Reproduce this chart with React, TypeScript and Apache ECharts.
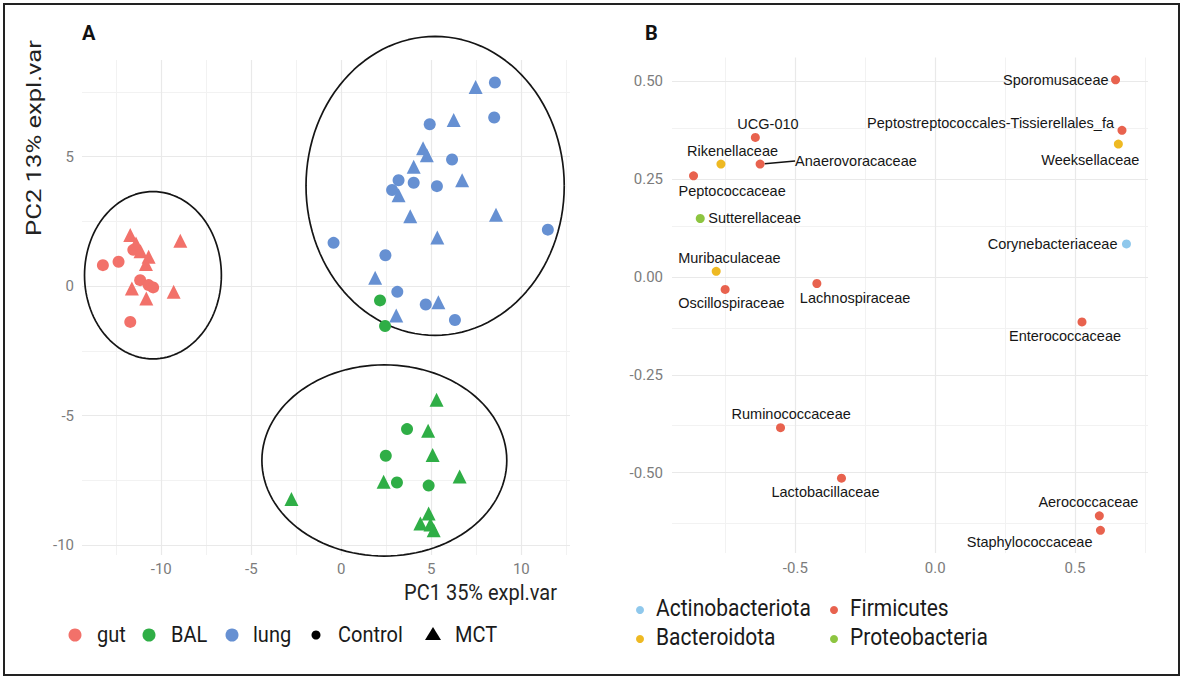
import React, { useEffect, useRef } from "react";
import * as echarts from "echarts";

// ---------- Panel A data (PC1, PC2) ----------
const gutControl = [[-13.24, 0.81], [-12.37, 0.94], [-11.55, 1.4], [-11.17, 0.23], [-10.7, 0.04], [-10.45, -0.05], [-11.72, -1.38]];
const gutMCT = [[-11.72, 1.97], [-11.4, 1.65], [-11.15, 1.35], [-10.7, 1.13], [-10.85, 0.85], [-8.94, 1.75], [-11.63, -0.09], [-10.83, -0.48], [-9.31, -0.22]];
const balControl = [[2.15, -0.55], [2.43, -1.54], [3.65, -5.52], [2.47, -6.55], [3.09, -7.58], [4.85, -7.7]];
const balMCT = [[5.29, -4.39], [4.82, -5.58], [5.07, -6.52], [2.35, -7.55], [6.57, -7.35], [-2.77, -8.22], [4.85, -8.78], [4.39, -9.16], [5.13, -9.42], [4.95, -9.2]];
const lungControl = [[8.53, 7.86], [8.49, 6.51], [4.91, 6.25], [6.15, 4.89], [3.18, 4.09], [4.02, 3.99], [5.31, 3.86], [2.82, 3.71], [11.47, 2.18], [-0.43, 1.67], [2.45, 1.19], [3.11, -0.22], [4.69, -0.71], [6.31, -1.31]];
const lungMCT = [[7.46, 7.69], [6.24, 6.41], [4.54, 5.32], [4.75, 5.05], [4.02, 4.61], [6.71, 4.09], [3.18, 3.51], [3.83, 2.7], [8.59, 2.76], [5.33, 1.88], [1.88, 0.32], [5.39, -0.62], [3.05, -1.13]];

const groups = ["gut", "BAL", "lung"];
const ellipseCx = [-10.46, 2.39, 5.21];
const ellipseCy = [0.42, -6.73, 3.87];
const ellipseRx = [3.8, 6.8, 7.17];
const ellipseRy = [3.23, 3.69, 5.77];

const xTicksA = [-10, -5, 0, 5, 10];
const xMinorA = [-12.5, -7.5, -2.5, 2.5, 7.5, 12.5];
const yTicksA = [-10, -5, 0, 5];
const yMinorA = [-7.5, -2.5, 2.5, 7.5];

// ---------- Panel B data (loadings) ----------
const taxa = [
  "Sporomusaceae", "Peptostreptococcales-Tissierellales_fa", "Weeksellaceae", "Corynebacteriaceae",
  "Enterococcaceae", "UCG-010", "Rikenellaceae", "Anaerovoracaceae", "Peptococcaceae",
  "Sutterellaceae", "Muribaculaceae", "Oscillospiraceae", "Lachnospiraceae", "Ruminococcaceae",
  "Lactobacillaceae", "Aerococcaceae", "Staphylococcaceae",
];
const loadX = [0.645, 0.668, 0.655, 0.684, 0.525, -0.643, -0.766, -0.626, -0.864, -0.84, -0.783, -0.751, -0.423, -0.553, -0.335, 0.587, 0.591];
const loadY = [0.503, 0.374, 0.339, 0.084, -0.115, 0.356, 0.288, 0.288, 0.258, 0.149, 0.014, -0.032, -0.017, -0.385, -0.514, -0.61, -0.647];
const phylum = [
  "Firmicutes", "Firmicutes", "Bacteroidota", "Actinobacteriota", "Firmicutes", "Firmicutes",
  "Bacteroidota", "Firmicutes", "Firmicutes", "Proteobacteria", "Bacteroidota", "Firmicutes",
  "Firmicutes", "Firmicutes", "Firmicutes", "Firmicutes", "Firmicutes",
];
const phyla = ["Actinobacteriota", "Firmicutes", "Bacteroidota", "Proteobacteria"];

const xTicksB = [-0.5, 0, 0.5];
const xMinorB = [-0.75, -0.25, 0.25, 0.75];
const yTicksB = [-0.5, -0.25, 0, 0.25, 0.5];
const yMinorB = [-0.625, -0.375, -0.125, 0.125, 0.375];

// ---------- styles ----------
const groupColors: Record<string, string> = { gut: "#F2716A", BAL: "#2FAE46", lung: "#6690D2" };
const phylumColors: Record<string, string> = {
  Actinobacteriota: "#8FC8EC",
  Firmicutes: "#E8624E",
  Bacteroidota: "#EEB922",
  Proteobacteria: "#8DC540",
};
// label placement: [dx, dy, align]
const labelPlace: Record<string, [number, number, string]> = {
  Sporomusaceae: [-7, 0, "right"],
  "Peptostreptococcales-Tissierellales_fa": [-8, -7, "right"],
  Weeksellaceae: [21, 16, "right"],
  Corynebacteriaceae: [-9, 0, "right"],
  Enterococcaceae: [-73, 14, "left"],
  "UCG-010": [-18, -13, "left"],
  Rikenellaceae: [-34, -13, "left"],
  Anaerovoracaceae: [35, -3, "left"],
  Peptococcaceae: [-15, 15, "left"],
  Sutterellaceae: [8, 0, "left"],
  Muribaculaceae: [-38, -13, "left"],
  Oscillospiraceae: [-47, 14, "left"],
  Lachnospiraceae: [-17, 14, "left"],
  Ruminococcaceae: [-49, -14, "left"],
  Lactobacillaceae: [-70, 14, "left"],
  Aerococcaceae: [39, -14, "right"],
  Staphylococcaceae: [-8, 12, "right"],
};

const GRID_MAJOR = "#e9e9e9";
const GRID_MINOR = "#f2f2f2";
const TICK_COLOR = "#7c7c7c";
const TICK_FONT = "Roboto";

function gridLines(gridIdx: number, xMaj: number[], xMin: number[], yMaj: number[], yMin: number[]) {
  const mk = (vals: number[], key: string, color: string, width: number) =>
    vals.map((v) => ({ [key]: v, lineStyle: { color, width, type: "solid" } }));
  return {
    type: "line",
    xAxisIndex: gridIdx,
    yAxisIndex: gridIdx,
    data: [],
    z: 0,
    zlevel: 0,
    silent: true,
    markLine: {
      silent: true,
      z: 0,
      symbol: ["none", "none"],
      label: { show: false },
      animation: false,
      data: [
        ...mk(xMin, "xAxis", GRID_MINOR, 1),
        ...mk(yMin, "yAxis", GRID_MINOR, 1),
        ...mk(xMaj, "xAxis", GRID_MAJOR, 1.2),
        ...mk(yMaj, "yAxis", GRID_MAJOR, 1.2),
      ],
    },
  };
}

function ellipsePoints(i: number) {
  const pts: number[][] = [];
  for (let k = 0; k <= 120; k++) {
    const t = (k / 120) * Math.PI * 2;
    pts.push([ellipseCx[i] + ellipseRx[i] * Math.cos(t), ellipseCy[i] + ellipseRy[i] * Math.sin(t)]);
  }
  return pts;
}

function groupData(control: number[][], mct: number[][]) {
  return [
    ...control.map((p) => ({ value: p, symbol: "circle", symbolSize: 12 })),
    ...mct.map((p) => ({ value: p, symbol: "triangle", symbolSize: 14 })),
  ];
}

export default function App() {
  const ref = useRef<HTMLDivElement>(null);
  useEffect(() => {
    if (!ref.current) return;
    const chart = echarts.init(ref.current, null, { renderer: "svg" });

    const axisCommon = {
      axisLine: { show: false },
      axisTick: { show: false },
      splitLine: { show: false },
    };

    const groupSeries = [
      ["gut", gutControl, gutMCT],
      ["BAL", balControl, balMCT],
      ["lung", lungControl, lungMCT],
    ].map(([g, c, m]: any) => ({
      type: "scatter",
      name: g,
      xAxisIndex: 0,
      yAxisIndex: 0,
      z: 10,
      itemStyle: { color: groupColors[g], opacity: 1 },
      data: groupData(c, m),
    }));

    const ellipseSeries = groups.map((g, i) => ({
      type: "line",
      name: g + " ellipse",
      xAxisIndex: 0,
      yAxisIndex: 0,
      data: ellipsePoints(i),
      showSymbol: false,
      symbol: "none",
      clip: false,
      z: 8,
      silent: true,
      lineStyle: { color: "#151515", width: 1.7 },
    }));

    const phylumSeries = phyla.map((ph) => {
      const idx = taxa.map((_, i) => i).filter((i) => phylum[i] === ph);
      return {
        type: "scatter",
        name: ph,
        xAxisIndex: 1,
        yAxisIndex: 1,
        z: 10,
        symbolSize: 9,
        itemStyle: { color: phylumColors[ph], opacity: 1 },
        data: idx.map((i) => {
          const [dx, dy, align] = labelPlace[taxa[i]];
          const lead = taxa[i] === "Anaerovoracaceae";
          return {
            name: taxa[i],
            value: [loadX[i], loadY[i]],
            label: {
              show: true,
              formatter: taxa[i],
              position: "inside",
              align,
              verticalAlign: "middle",
              offset: [dx, dy],
              color: "#161616",
              fontSize: 14.5,
              fontFamily: "Liberation Sans",
              textBorderWidth: 0,
              textBorderColor: "transparent",
            },
            labelLine: lead ? { show: true, lineStyle: { color: "#111", width: 1.5 } } : { show: false },
          };
        }),
      };
    });

    const legendA: any[] = [];
    const legAItems = [
      { kind: "c", color: groupColors.gut, x: 75, r: 6.5, text: "gut", tx: 97 },
      { kind: "c", color: groupColors.BAL, x: 149, r: 6.5, text: "BAL", tx: 171 },
      { kind: "c", color: groupColors.lung, x: 232, r: 6.5, text: "lung", tx: 253 },
      { kind: "c", color: "#000", x: 316, r: 4.5, text: "Control", tx: 338 },
      { kind: "t", color: "#000", x: 433, r: 7.5, text: "MCT", tx: 455 },
    ];
    const ly = 634;
    legAItems.forEach((it) => {
      if (it.kind === "c") {
        legendA.push({ type: "circle", shape: { cx: it.x, cy: ly + 1, r: it.r }, style: { fill: it.color } });
      } else {
        legendA.push({
          type: "polygon",
          shape: { points: [[it.x, ly - 7], [it.x + 8, ly + 6], [it.x - 8, ly + 6]] },
          style: { fill: it.color },
        });
      }
      legendA.push({
        type: "text",
        x: it.tx,
        y: ly,
        scaleY: 1.12,
        style: { text: it.text, fill: "#1a1a1a", font: "20px Roboto", textAlign: "left", textVerticalAlign: "middle", align: "left", verticalAlign: "middle" },
      });
    });

    const legendB: any[] = [];
    const legBPos: Record<string, [number, number]> = {
      Actinobacteriota: [640, 608],
      Firmicutes: [834, 608],
      Bacteroidota: [640, 637],
      Proteobacteria: [834, 637],
    };
    phyla.forEach((ph) => {
      const [x, y] = legBPos[ph];
      legendB.push({ type: "circle", shape: { cx: x, cy: y + 2, r: 4 }, style: { fill: phylumColors[ph] } });
      legendB.push({
        type: "text",
        x: x + 16,
        y,
        scaleY: 1.12,
        style: { text: ph, fill: "#1a1a1a", font: "21px Roboto", textAlign: "left", textVerticalAlign: "middle", align: "left", verticalAlign: "middle" },
      });
    });

    const option: any = {
      animation: false,
      backgroundColor: "#ffffff",
      grid: [
        { left: 82, top: 60, width: 488, height: 495 },
        { left: 672, top: 57.5, width: 476, height: 495.5 },
      ],
      xAxis: [
        {
          type: "value", gridIndex: 0, min: -14.4, max: 12.7, ...axisCommon,
          axisLabel: { customValues: xTicksA, color: TICK_COLOR, fontSize: 15, fontFamily: TICK_FONT, margin: 6 },
        },
        {
          type: "value", gridIndex: 1, min: -0.941, max: 0.761, ...axisCommon,
          axisLabel: { customValues: xTicksB, color: TICK_COLOR, fontSize: 15, fontFamily: TICK_FONT, margin: 7, formatter: (v: number) => v.toFixed(1) },
        },
      ],
      yAxis: [
        {
          type: "value", gridIndex: 0, min: -10.38, max: 8.73, ...axisCommon,
          axisLabel: { customValues: yTicksA, color: TICK_COLOR, fontSize: 15, fontFamily: TICK_FONT, margin: 8 },
        },
        {
          type: "value", gridIndex: 1, min: -0.705, max: 0.56, ...axisCommon,
          axisLabel: { customValues: yTicksB, color: TICK_COLOR, fontSize: 15, fontFamily: TICK_FONT, margin: 9, formatter: (v: number) => v.toFixed(2) },
        },
      ],
      series: [
        gridLines(0, xTicksA, xMinorA, yTicksA, yMinorA),
        gridLines(1, xTicksB, xMinorB, yTicksB, yMinorB),
        ...ellipseSeries,
        ...groupSeries,
        ...phylumSeries,
      ],
      graphic: [
        { type: "rect", shape: { x: 4, y: 4, width: 1175, height: 671 }, style: { fill: "none", stroke: "#222", lineWidth: 2 } },
        { type: "text", x: 82, y: 33, style: { text: "A", fill: "#111", font: "bold 20px Roboto", textVerticalAlign: "middle", verticalAlign: "middle" } },
        { type: "text", x: 645, y: 33, style: { text: "B", fill: "#111", font: "bold 20px Roboto", textVerticalAlign: "middle", verticalAlign: "middle" } },
        {
          type: "text", x: 557, y: 592, scaleY: 1.12,
          style: { text: "PC1 35% expl.var", fill: "#222", font: "20px Roboto", textAlign: "right", align: "right", textVerticalAlign: "middle", verticalAlign: "middle" },
        },
        {
          type: "text", x: 34, y: 138, rotation: Math.PI / 2, scaleX: 1.28, scaleY: 1.05,
          style: { text: "PC2 13% expl.var", fill: "#222", font: "20px Roboto", textAlign: "center", align: "center", textVerticalAlign: "middle", verticalAlign: "middle" },
        },
        ...legendA,
        ...legendB,
      ],
    };
    chart.setOption(option);
    return () => chart.dispose();
  }, []);

  return (
    <div
      ref={ref}
      style={{ position: "fixed", left: 0, top: 0, width: 1182, height: 678, background: "#fff" }}
    />
  );
}
